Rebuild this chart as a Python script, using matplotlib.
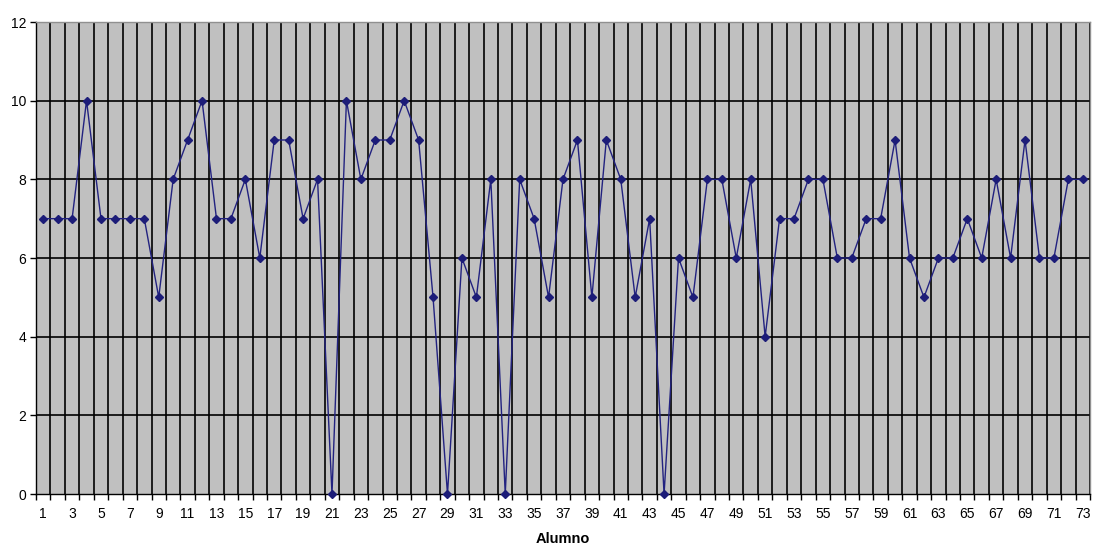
import matplotlib
matplotlib.use('Agg')
import matplotlib.pyplot as plt
import numpy as np

# Notas por alumno
alumnos = list(range(1, 74))
notas = [7, 7, 7, 10, 7, 7, 7, 7, 5, 8,
         9, 10, 7, 7, 8, 6, 9, 9, 7, 8,
         0, 10, 8, 9, 9, 10, 9, 5, 0, 6,
         5, 8, 0, 8, 7, 5, 8, 9, 5, 9,
         8, 5, 7, 0, 6, 5, 8, 8, 6, 8,
         4, 7, 7, 8, 8, 6, 6, 7, 7, 9,
         6, 5, 6, 6, 7, 6, 8, 6, 9, 6,
         6, 8, 8]
y_ticks = [0, 2, 4, 6, 8, 10, 12]
x_labels = alumnos[::2]

plt.rcParams['font.family'] = ['Liberation Sans', 'DejaVu Sans']

fig = plt.figure(figsize=(10.93, 5.49), dpi=100)
fig.patch.set_facecolor('white')
ax = fig.add_axes([36 / 1093, 1 - 494 / 549, (1090 - 36) / 1093, (494 - 22) / 549])
ax.set_facecolor('#C0C0C0')

# grid: horizontal at y ticks, vertical at category boundaries
bounds = np.arange(0.5, len(alumnos) + 1, 1.0)
for b in bounds:
    ax.axvline(b, color='black', linewidth=1.2, zorder=1)
for t in y_ticks[1:]:
    ax.axhline(t, color='black', linewidth=1.2, zorder=1)

ax.plot(alumnos, notas, color='#222280', linewidth=1.0, marker='D',
        markersize=4.5, markerfacecolor='#1C1C78', markeredgecolor='#1C1C78',
        zorder=3, clip_on=False)

ax.set_xlim(0.5, len(alumnos) + 0.5)
ax.set_ylim(0, 12)

ax.set_yticks(y_ticks)
ax.set_yticklabels([str(t) for t in y_ticks], fontsize=10)
ax.set_xticks(x_labels)
ax.set_xticklabels([str(a) for a in x_labels], fontsize=10)
ax.tick_params(axis='x', which='major', length=0, pad=9)
ax.set_xticks(bounds, minor=True)
ax.tick_params(axis='x', which='minor', length=4, direction='out', width=1)
ax.tick_params(axis='y', which='major', length=4, direction='out', width=1, pad=3)

for side in ['top', 'right']:
    ax.spines[side].set_color('#909090')
    ax.spines[side].set_linewidth(1)
for side in ['left', 'bottom']:
    ax.spines[side].set_color('black')
    ax.spines[side].set_linewidth(1)

ax.set_xlabel('Alumno', fontsize=10.5, fontweight='bold', labelpad=8)

fig.savefig('out.png', dpi=100, facecolor='white')
